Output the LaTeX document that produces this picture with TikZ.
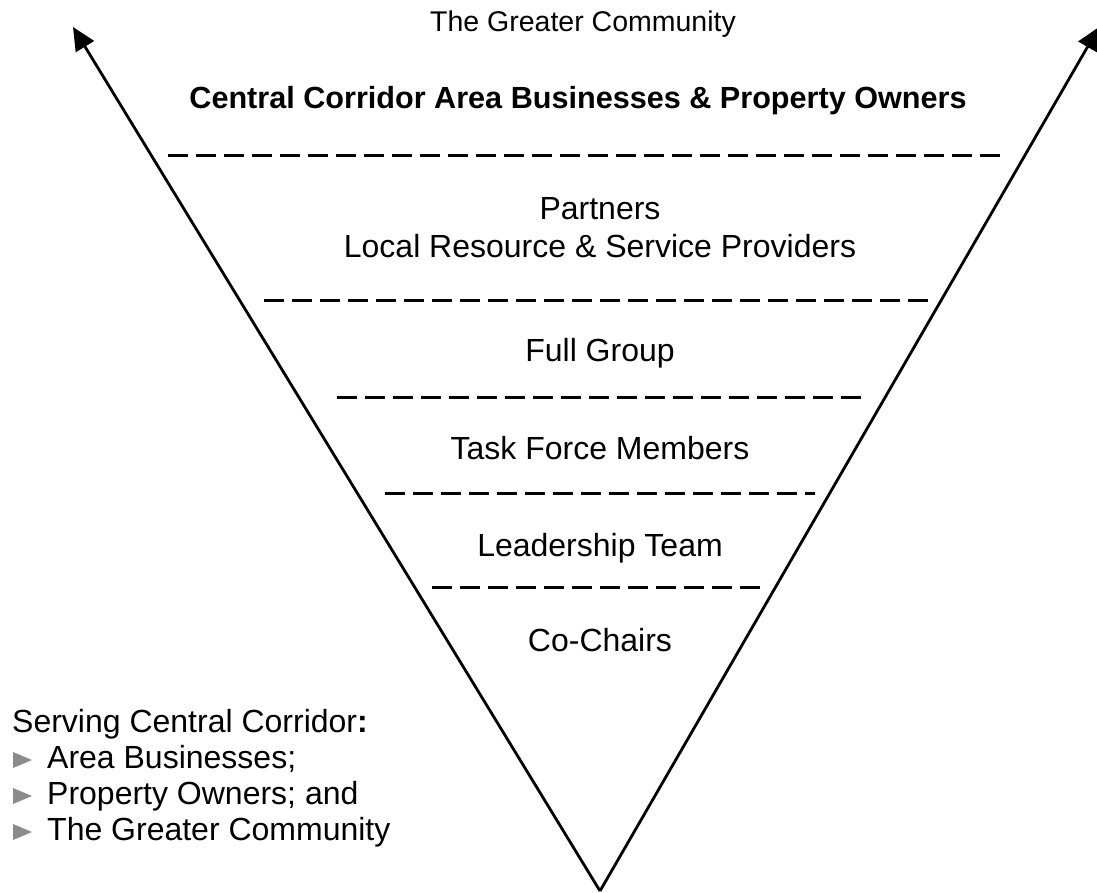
\documentclass[tikz,border=0pt]{standalone}
\usepackage{fontspec}
\setmainfont{Liberation Sans}
\usetikzlibrary{arrows.meta}
\begin{document}
\begin{tikzpicture}[x=1pt,y=-1pt,
  lbl/.style={anchor=base,inner sep=0pt,font=\fontsize{32}{38}\selectfont},
  lft/.style={anchor=base west,inner sep=0pt,font=\fontsize{32}{38}\selectfont},
  sep/.style={line width=3pt,dash pattern=on 20pt off 8pt},
  vline/.style={line width=2.8pt,-{Triangle[length=23pt,width=21pt]}},
  bul/.style={fill=black!45}]
\useasboundingbox (0,0) rectangle (1097,893);
% V arrows
\coordinate (apex) at (600,891);
\coordinate (tipL) at (73,27);
\coordinate (tipR) at (1099,27);
\draw[vline] (apex) -- (tipL);
\draw[vline] (apex) -- (tipR);
% texts
\node[lbl,font=\fontsize{28.5}{34}\selectfont] (gc) at (583,32) {The Greater Community};
\node[lbl,font=\fontsize{30.6}{36}\selectfont\bfseries] (cc) at (578,109) {Central Corridor Area Businesses \& Property Owners};
\node[lbl] (pa) at (600,220) {Partners};
\node[lbl] (lr) at (600,258) {Local Resource \& Service Providers};
\node[lbl] (fg) at (600,361) {Full Group};
\node[lbl] (tf) at (600,459) {Task Force Members};
\node[lbl] (lt) at (600,556) {Leadership Team};
\node[lbl] (ch) at (600,651) {Co-Chairs};
% separators
\coordinate (s1a) at (168,156); \coordinate (s1b) at (1005,156);
\coordinate (s2a) at (264,300); \coordinate (s2b) at (932,300);
\coordinate (s3a) at (337,397); \coordinate (s3b) at (863,397);
\coordinate (s4a) at (385,493); \coordinate (s4b) at (815,493);
\coordinate (s5a) at (432,587); \coordinate (s5b) at (763,587);
\draw[sep] (s1a) -- (s1b);
\draw[sep] (s2a) -- (s2b);
\draw[sep] (s3a) -- (s3b);
\draw[sep] (s4a) -- (s4b);
\draw[sep] (s5a) -- (s5b);
% left list
\node[lft] (sv) at (12,732) {Serving Central Corridor\textbf{:}};
\node[lft] (b1) at (47,768) {Area Businesses;};
\node[lft] (b2) at (47,804) {Property Owners; and};
\node[lft] (b3) at (47,840) {The Greater Community};
\fill[bul] (13,752) -- (32,760) -- (13,768) -- cycle;
\fill[bul] (13,788) -- (32,796) -- (13,804) -- cycle;
\fill[bul] (13,824) -- (32,832) -- (13,840) -- cycle;
\end{tikzpicture}
\end{document}
